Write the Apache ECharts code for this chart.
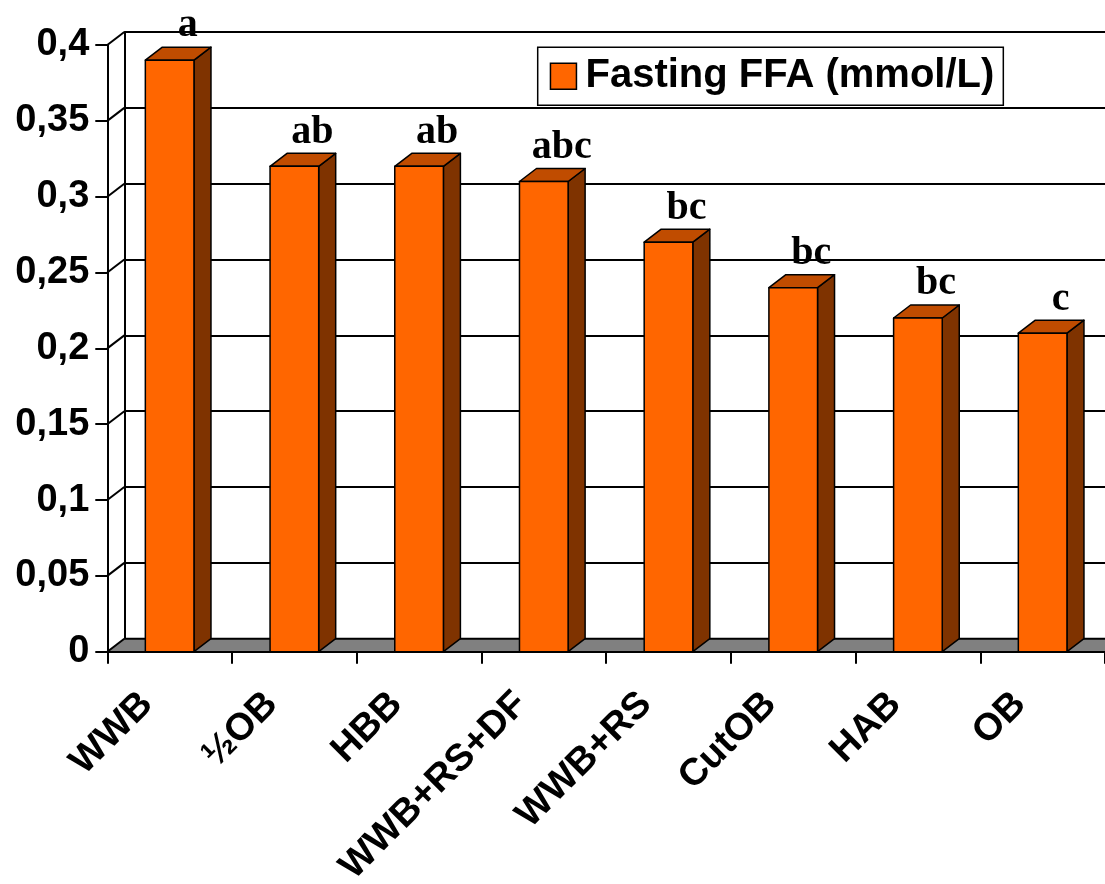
<!DOCTYPE html>
<html><head><meta charset="utf-8">
<script src="https://cdn.jsdelivr.net/npm/echarts@6/dist/echarts.min.js"></script>
<style>html,body{margin:0;padding:0;background:#fff}#c{width:1105px;height:884px}</style>
</head><body><div id="c"></div>
<script>
const categories = ['WWB', '½OB', 'HBB', 'WWB+RS+DF', 'WWB+RS', 'CutOB', 'HAB', 'OB'];
const ffaValues = [0.39, 0.32, 0.32, 0.31, 0.27, 0.24, 0.22, 0.21];
const sigLetters = ['a', 'ab', 'ab', 'abc', 'bc', 'bc', 'bc', 'c'];
const yTickValues = [0, 0.05, 0.1, 0.15, 0.2, 0.25, 0.3, 0.35, 0.4];
const yTickLabels = ['0', '0,05', '0,1', '0,15', '0,2', '0,25', '0,3', '0,35', '0,4'];
const seriesName = 'Fasting FFA (mmol/L)';

const DX = 17, DY = -13;
const SANS = '"Liberation Sans", Arial, sans-serif';
const SERIF = '"Liberation Serif", "Times New Roman", serif';
const FRONT = {left: 107.3, top: 45, width: 997.7, height: 606.7};
const BACK = {left: FRONT.left + DX, top: FRONT.top + DY, width: FRONT.width, height: FRONT.height};

function yFmt(v) {
  const i = yTickValues.findIndex(t => Math.abs(t - v) < 1e-9);
  return i >= 0 ? yTickLabels[i] : '';
}

const chart = echarts.init(document.getElementById('c'), null, {renderer: 'canvas'});
chart.setOption({
  animation: false,
  backgroundColor: '#fff',
  grid: [
    {left: FRONT.left, top: FRONT.top, width: FRONT.width, height: FRONT.height, containLabel: false, outerBoundsMode: 'none'},
    {left: BACK.left, top: BACK.top, width: BACK.width, height: BACK.height, containLabel: false, outerBoundsMode: 'none'}
  ],
  legend: {
    left: 537.7, top: 47.3,
    data: [{name: seriesName, icon: 'rect'}],
    itemWidth: 26, itemHeight: 26,
    borderColor: '#000', borderWidth: 1.5,
    padding: [8, 9, 8, 12],
    selectedMode: false,
    itemStyle: {color: '#FF6600', borderColor: '#000', borderWidth: 1.5},
    textStyle: {fontFamily: SANS, fontWeight: 'bold', fontSize: 40, lineHeight: 42, color: '#000', padding: [0, 0, 0, 4]}
  },
  xAxis: [
    {
      type: 'category', gridIndex: 0, data: categories, z: 10,
      axisLine: {lineStyle: {color: '#000', width: 2}},
      axisTick: {show: true, length: 12, lineStyle: {color: '#000', width: 2}},
      axisLabel: {
        rotate: 45, interval: 0, margin: 24, color: '#000',
        fontFamily: SANS, fontWeight: 'bold', fontSize: 38,
        padding: [0, 32, 0, 0]
      }
    },
    {type: 'category', gridIndex: 1, data: categories, show: false}
  ],
  yAxis: [
    {
      type: 'value', gridIndex: 0, min: 0, max: 0.4, interval: 0.05, z: 10,
      axisLine: {show: true, lineStyle: {color: '#000', width: 2}},
      axisTick: {show: true, length: 12, lineStyle: {color: '#000', width: 2}},
      splitLine: {show: false},
      axisLabel: {
        margin: 18, color: '#000', fontFamily: SANS, fontWeight: 'bold', fontSize: 38,
        padding: [7, 0, 0, 0],
        formatter: yFmt
      }
    },
    {
      type: 'value', gridIndex: 1, min: 0, max: 0.4, interval: 0.05,
      axisLine: {show: true, lineStyle: {color: '#000', width: 2}},
      axisTick: {show: false},
      axisLabel: {show: false},
      splitLine: {show: true, lineStyle: {color: '#000', width: 2}}
    }
  ],
  series: [
    {
      name: 'floor', type: 'custom', xAxisIndex: 0, yAxisIndex: 0, z: 1, silent: true,
      data: [[0, 0]],
      renderItem: function (params, api) {
        const cs = params.coordSys;
        const y0 = api.coord([0, 0])[1];
        const xl = cs.x, xr = cs.x + cs.width;
        return {
          type: 'group', children: [
            {type: 'polygon', shape: {points: [[xl, y0], [xr, y0], [xr + DX, y0 + DY], [xl + DX, y0 + DY]]},
              style: {fill: '#808080', stroke: null}},
            {type: 'line', shape: {x1: xl + DX, y1: y0 + DY, x2: xr + DX, y2: y0 + DY},
              style: {stroke: '#000', lineWidth: 2}}
          ]
        };
      }
    },
    {
      name: 'wall', type: 'custom', xAxisIndex: 0, yAxisIndex: 0, z: 2, silent: true,
      data: yTickValues.map(v => [0, v]),
      renderItem: function (params, api) {
        const cs = params.coordSys;
        const y = api.coord([0, api.value(1)])[1];
        return {type: 'line', shape: {x1: cs.x, y1: y, x2: cs.x + DX, y2: y + DY},
          style: {stroke: '#000', lineWidth: 2}};
      }
    },
    {
      name: seriesName, type: 'custom', xAxisIndex: 0, yAxisIndex: 0, z: 3,
      itemStyle: {color: '#FF6600'},
      data: ffaValues.map((v, i) => [i, v]),
      renderItem: function (params, api) {
        const i = api.value(0), v = api.value(1);
        const b = api.coord([i, 0]), t = api.coord([i, v]);
        const w = api.size([1, 0])[0] * 0.39;
        const x0 = b[0] - w / 2, x1 = b[0] + w / 2, yb = b[1], yt = t[1];
        const st = {stroke: '#000', lineWidth: 1.5, lineJoin: 'round'};
        return {
          type: 'group', children: [
            {type: 'polygon', shape: {points: [[x1, yt], [x1 + DX, yt + DY], [x1 + DX, yb + DY], [x1, yb]]},
              style: Object.assign({fill: '#7F3300'}, st)},
            {type: 'polygon', shape: {points: [[x0, yt], [x1, yt], [x1 + DX, yt + DY], [x0 + DX, yt + DY]]},
              style: Object.assign({fill: '#C04C00'}, st)},
            {type: 'rect', shape: {x: x0, y: yt, width: w, height: yb - yt},
              style: Object.assign({fill: '#FF6600'}, st)},
            {type: 'text', x: b[0] + DX + 1, y: yt + DY - 1,
              style: {text: sigLetters[params.dataIndex], fill: '#000', font: 'bold 40px ' + SERIF,
                align: 'center', verticalAlign: 'bottom'}}
          ]
        };
      }
    }
  ]
});
</script></body></html>
